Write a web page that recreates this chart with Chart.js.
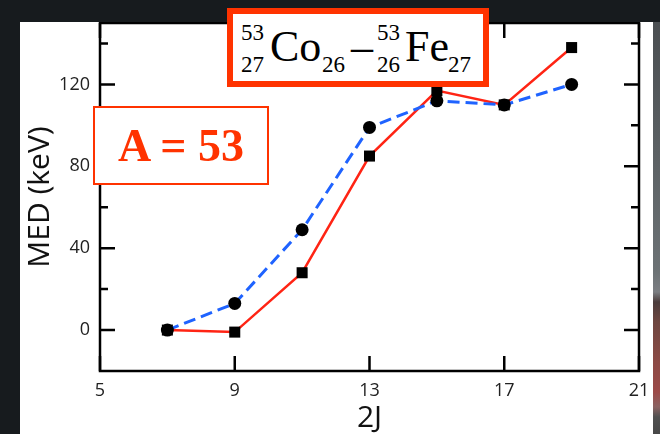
<!DOCTYPE html>
<html><head><meta charset="utf-8">
<script src="https://cdn.jsdelivr.net/npm/chart.js@4"></script>
<style>
html,body{margin:0;padding:0;width:660px;height:434px;overflow:hidden;background:#171b1e;}
#strip{position:absolute;left:653px;top:22px;width:7px;height:412px;
 background:linear-gradient(to bottom,#4a4e51 0px,#5a5f62 120px,#6c7275 250px,#7b7e82 270px,#4b3c3c 280px,#6e4640 300px,#8c4a45 340px,#9c4a48 370px,#8a6262 385px,#505050 395px,#484848 412px);}
#wrap{position:absolute;left:20px;top:22px;width:633px;height:412px;background:#fff;}
canvas{display:block;}
.box{position:absolute;box-sizing:border-box;background:#fff;border-style:solid;border-color:#ff3300;}
.t{position:absolute;font-family:"Liberation Serif","Times New Roman",serif;white-space:nowrap;color:#000;line-height:1;}
</style></head>
<body>
<div id="strip"></div>
<div id="wrap"><canvas id="c" width="633" height="412"></canvas></div>
<div class="box" style="left:93px;top:106px;width:176px;height:79px;border-width:2px;"></div>
<div class="t" id="a53" style="left:0;width:362px;text-align:center;font-weight:bold;font-size:46px;color:#ff3300;">A = 53</div>
<div class="box" style="left:227px;top:8px;width:262px;height:79px;border-width:6px;"></div>
<div id="formula"></div>
<script>
// ---- data ----
const spins2J = [7, 9, 11, 13, 15, 17, 19];
const medExpt = [0, -1, 28, 85, 117, 110, 138];      // red squares, solid line
const medCalc = [0, 13, 49, 99, 112, 110, 120];      // black circles, blue dashed line
const xTickLabels = [5, 9, 13, 17, 21];
const yTickLabels = [0, 40, 80, 120];
const yMinorTicks = [20, 60, 100, 140];

// place text by baseline (Liberation Serif: line-height 1 -> baseline at 0.8375*size from top)
function placeText(el, baseline, size){
  el.style.fontSize = size + 'px';
  el.style.top = (baseline - 0.8375*size) + 'px';
}
placeText(document.getElementById('a53'), 162, 46);
const pieces = [
  ['53', 241, 40, 23], ['27', 241, 72, 23],
  ['Co', 270, 62, 44], ['26', 322, 72, 23],
  ['\u2013', 351, 62, 44],
  ['53', 377, 40, 23], ['26', 377, 72, 23],
  ['Fe', 405, 62, 44], ['27', 448, 72, 23]
];
const fm = document.getElementById('formula');
pieces.forEach(p => {
  const d = document.createElement('div');
  d.className = 't'; d.textContent = p[0];
  d.style.left = p[1] + 'px';
  placeText(d, p[2], p[3]);
  fm.appendChild(d);
});

const frameTicks = {
  id: 'frameTicks',
  beforeDatasetsDraw(chart){
    const {ctx, chartArea: a, scales: {x, y}} = chart;
    ctx.save();
    ctx.strokeStyle = '#000';
    ctx.lineWidth = 2.5;
    ctx.strokeRect(a.left, a.top, a.right - a.left, a.bottom - a.top);
    ctx.beginPath();
    xTickLabels.forEach(v => {
      const px = x.getPixelForValue(v);
      ctx.moveTo(px, a.bottom); ctx.lineTo(px, a.bottom - 15);
      ctx.moveTo(px, a.top); ctx.lineTo(px, a.top + 15);
    });
    yTickLabels.forEach(v => {
      const py = y.getPixelForValue(v);
      ctx.moveTo(a.left, py); ctx.lineTo(a.left + 15, py);
      ctx.moveTo(a.right, py); ctx.lineTo(a.right - 15, py);
    });
    yMinorTicks.forEach(v => {
      const py = y.getPixelForValue(v);
      ctx.moveTo(a.left, py); ctx.lineTo(a.left + 8, py);
      ctx.moveTo(a.right, py); ctx.lineTo(a.right - 8, py);
    });
    ctx.stroke();
    ctx.restore();
  }
};

function zeroPad(s){ s.paddingTop = 0; s.paddingBottom = 0; s.paddingLeft = 0; s.paddingRight = 0; }

new Chart(document.getElementById('c'), {
  type: 'line',
  data: {
    datasets: [
      { label: 'calc', data: spins2J.map((v,i)=>({x:v, y:medCalc[i]})),
        borderColor: '#1f63ff', borderWidth: 3, borderDash: [12, 6],
        pointStyle: 'circle', pointRadius: 6.5, pointBackgroundColor: '#000', pointBorderColor: '#000', pointBorderWidth: 0 },
      { label: 'expt', data: spins2J.map((v,i)=>({x:v, y:medExpt[i]})),
        borderColor: '#ff2414', borderWidth: 2.5,
        pointStyle: 'rect', pointRadius: 7.8, pointBackgroundColor: '#000', pointBorderColor: '#000', pointBorderWidth: 0 }
    ]
  },
  options: {
    responsive: false, animation: false, devicePixelRatio: 1,
    layout: { autoPadding: false, padding: { top: 1, right: 14, left: 0, bottom: 0 } },
    plugins: { legend: { display: false }, tooltip: { enabled: false } },
    scales: {
      x: {
        type: 'linear', min: 5, max: 21,
        afterFit: s => { s.height = 63; zeroPad(s); },
        afterBuildTicks: s => { s.ticks = xTickLabels.map(v => ({ value: v })); },
        grid: { display: false, drawTicks: false }, border: { display: false },
        ticks: { padding: 9, color: '#222', font: { family: 'Open Sans', size: 18 }, maxRotation: 0 },
        title: { display: true, text: '2J', color: '#111', font: { family: 'Open Sans', size: 30, lineHeight: 1 }, padding: { top: 0, bottom: 1 } }
      },
      y: {
        type: 'linear', min: -20, max: 150,
        afterFit: s => { s.width = 80; zeroPad(s); },
        afterBuildTicks: s => { s.ticks = yTickLabels.map(v => ({ value: v })); },
        grid: { display: false, drawTicks: false }, border: { display: false },
        ticks: { padding: 10, color: '#222', font: { family: 'Open Sans', size: 18 } },
        title: { display: true, text: 'MED (keV)', color: '#111', font: { family: 'Open Sans', size: 30, lineHeight: 1 }, padding: { top: 5, bottom: 0 } }
      }
    }
  },
  plugins: [frameTicks]
});
</script>
</body></html>
